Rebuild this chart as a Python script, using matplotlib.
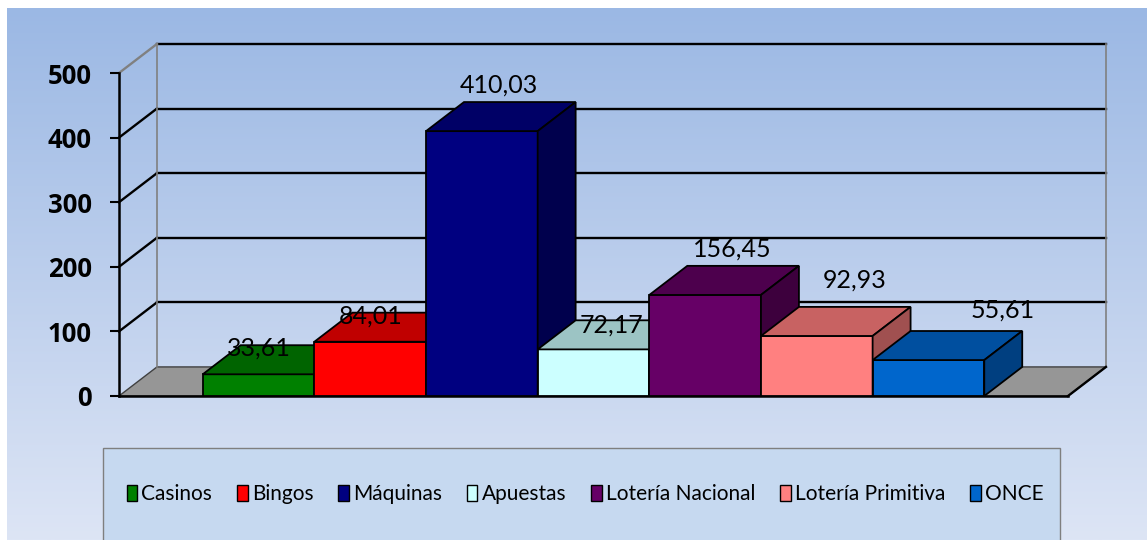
import matplotlib.pyplot as plt
import numpy as np
from matplotlib.patches import Polygon, Rectangle, Patch

# Data
series = ['Casinos', 'Bingos', 'Máquinas', 'Apuestas', 'Lotería Nacional', 'Lotería Primitiva', 'ONCE']
values = [33.61, 84.01, 410.03, 72.17, 156.45, 92.93, 55.61]
y_ticks = [0, 100, 200, 300, 400, 500]

# Styles (front, top, side)
front_colors = ['#008000', '#FF0000', '#000080', '#CCFFFF', '#660066', '#FF8080', '#0066CC']
top_colors = ['#006400', '#C00000', '#000066', '#9CC4C4', '#4D004D', '#C86262', '#004F9F']
side_colors = ['#004D00', '#990000', '#00004D', '#7FA3A3', '#3D003D', '#A05050', '#003F80']
# label offsets in pixels (dx, dy) from the back-top centre of each bar
label_offsets = [(0, -3), (0, -3), (17, 17), (18, -5), (27, 17), (38, 27), (74, 21)]

W, H = 1147, 540
fig = plt.figure(figsize=(W / 100, H / 100), dpi=100)
fig.patch.set_facecolor('white')

# gradient background
bg = fig.add_axes([7 / W, 0, 1 - 7 / W, (H - 8) / H])
grad = np.linspace(0, 1, 256).reshape(-1, 1)
top_rgb = np.array([0x9B, 0xB8, 0xE4]) / 255
bot_rgb = np.array([0xDD, 0xE5, 0xF5]) / 255
img = top_rgb * (1 - grad[..., None]) + bot_rgb * grad[..., None]
bg.imshow(img, aspect='auto', extent=[0, 1, 0, 1])
bg.axis('off')

# legend box
fig.patches.append(Rectangle((103 / W, -0.05), (1060 - 103) / W, (H - 448) / H + 0.05,
                             transform=fig.transFigure, facecolor='#C6D9F0',
                             edgecolor='#7F7F7F', lw=1, zorder=1))

XMAX = 8.5
DX, DY = 0.34, 45
ax = fig.add_axes([119 / W, (H - 396) / H, 949 / W, 323 / H])
ax.set_xlim(0, XMAX)
ax.set_ylim(0, 500)
ax.patch.set_visible(False)

# floor
ax.add_patch(Polygon([(0, 0), (XMAX, 0), (XMAX + DX, DY), (DX, DY)], closed=True,
                     facecolor='#969696', edgecolor='#404040', lw=1, zorder=1, clip_on=False))
# back wall gridlines and left wall lines
for v in y_ticks[1:]:
    c = '#808080' if v == 500 else 'black'
    ax.plot([DX, XMAX + DX], [v + DY, v + DY], color='black', lw=1.7, zorder=1.5, clip_on=False)
    ax.plot([0, DX], [v, v + DY], color=c, lw=1.7, zorder=1.5, clip_on=False)
ax.plot([DX, DX], [DY, 500 + DY], color='#808080', lw=1.2, zorder=1.5, clip_on=False)
ax.plot([XMAX + DX, XMAX + DX], [DY, 500 + DY], color='#808080', lw=1.2, zorder=1.5, clip_on=False)
ax.plot([XMAX, XMAX + DX], [0, DY], color='black', lw=1.7, zorder=1.6, clip_on=False)

# 3D bars
for i, v in enumerate(values):
    x0 = 0.75 + i
    z = 3 + i * 0.1
    ax.add_patch(Polygon([(x0, 0), (x0 + 1, 0), (x0 + 1, v), (x0, v)], closed=True,
                         facecolor=front_colors[i], edgecolor='black', lw=1.3, zorder=z, clip_on=False))
    ax.add_patch(Polygon([(x0, v), (x0 + 1, v), (x0 + 1 + DX, v + DY), (x0 + DX, v + DY)], closed=True,
                         facecolor=top_colors[i], edgecolor='black', lw=1.3, zorder=z, clip_on=False))
    ax.add_patch(Polygon([(x0 + 1, 0), (x0 + 1 + DX, DY), (x0 + 1 + DX, v + DY), (x0 + 1, v)], closed=True,
                         facecolor=side_colors[i], edgecolor='black', lw=1.3, zorder=z, clip_on=False))
    ox, oy = label_offsets[i]
    ax.annotate(f'{v:.2f}'.replace('.', ','), xy=(x0 + 0.5, v + DY), xytext=(ox, oy),
                textcoords='offset pixels', ha='center', va='center',
                fontsize=18, family='Lato', color='black', zorder=10, annotation_clip=False)

# axes
for s in ['top', 'right']:
    ax.spines[s].set_visible(False)
ax.spines['left'].set_linewidth(1.8)
ax.spines['bottom'].set_linewidth(1.8)
ax.spines['left'].set_zorder(2)
ax.spines['bottom'].set_zorder(2)
ax.set_xticks([])
ax.set_yticks(y_ticks)
ax.set_yticklabels([str(t) for t in y_ticks], fontfamily='Open Sans', fontweight='bold', fontsize=18.5)
ax.tick_params(axis='y', length=6.5, width=1.5, pad=13)

handles = [Patch(facecolor=c, edgecolor='black', lw=1) for c in front_colors]
leg = fig.legend(handles, series, ncol=7, loc='center', bbox_to_anchor=(585 / W, 1 - 494 / H),
                 frameon=False, prop={'family': 'Lato', 'size': 15},
                 handlelength=0.5, handleheight=0.8, handletextpad=0.2, columnspacing=1.2)

fig.savefig('out.png', dpi=100)
